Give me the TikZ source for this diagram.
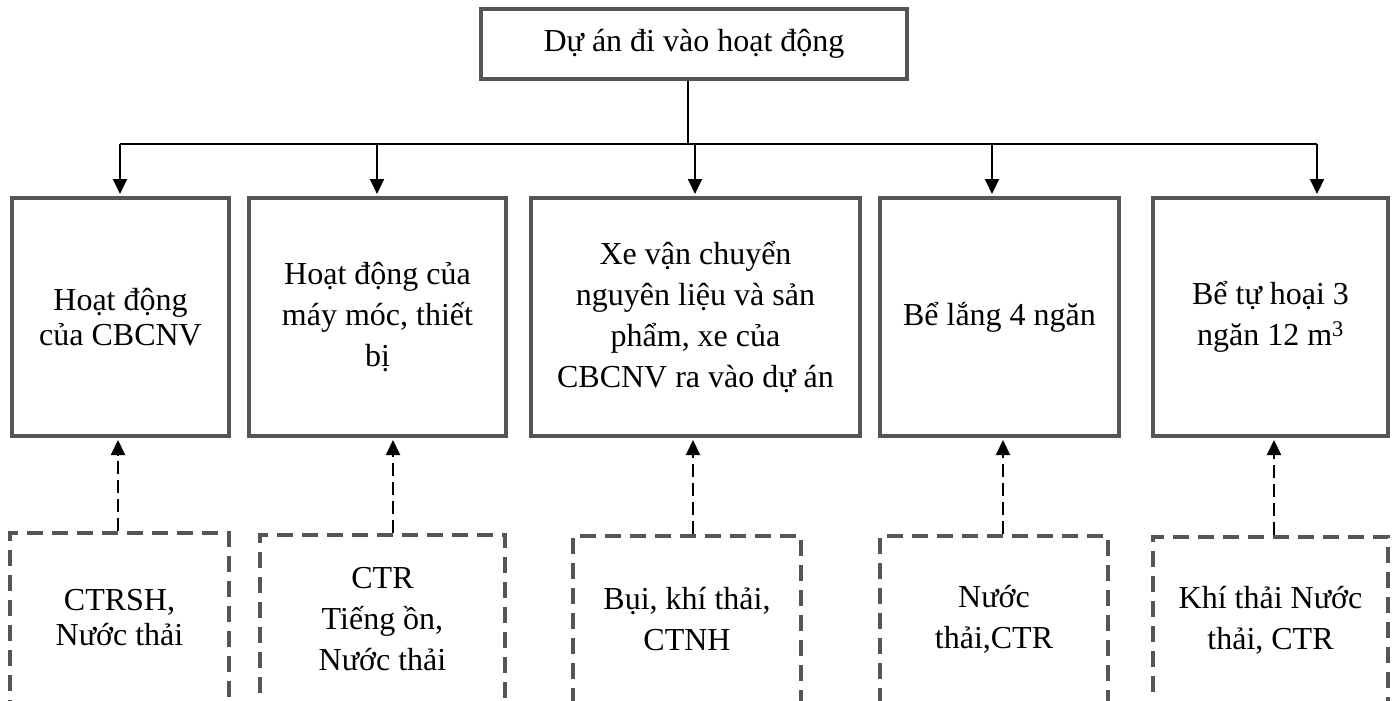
\documentclass[tikz,border=0pt]{standalone}
\usepackage{fontspec}
\setmainfont{Liberation Serif}
\usetikzlibrary{arrows.meta}
\definecolor{boxgray}{HTML}{555555}
\tikzset{
  txt/.style={align=center, inner sep=0pt, font=\fontsize{32}{41}\selectfont},
  tight/.style={font=\fontsize{32}{35}\selectfont},
  solidbox/.style={txt, draw=boxgray, line width=4pt},
  dashbox/.style={txt, draw=boxgray, line width=4pt, dash pattern=on 16pt off 9pt},
  link/.style={draw=black, line width=2pt},
  arr/.style={link, -{Triangle[width=14pt,length=15pt]}, shorten >=2pt},
  darr/.style={arr, dash pattern=on 13pt off 6pt}
}
\begin{document}
\begin{tikzpicture}[x=1pt,y=-1pt]
\useasboundingbox (0,0) rectangle (1392,701);
\clip (0,0) rectangle (1392,701);
\fill[white] (0,0) rectangle (1392,701);

% top box
\node[solidbox, minimum width=426pt, minimum height=70pt] (top) at (694,44) {Dự án đi vào hoạt động};

% activity boxes
\node[solidbox, tight, minimum width=217pt, minimum height=238pt] (b1) at (120.5,317) {Hoạt động\\của CBCNV};
\node[solidbox, minimum width=257pt, minimum height=238pt] (b2) at (377.5,317) {Hoạt động của\\máy móc, thiết\\bị};
\node[solidbox, minimum width=329pt, minimum height=238pt] (b3) at (695.5,317) {Xe vận chuyển\\nguyên liệu và sản\\phẩm, xe của\\CBCNV ra vào dự án};
\node[solidbox, minimum width=239pt, minimum height=238pt] (b4) at (999.5,317) {Bể lắng 4 ngăn};
\node[solidbox, minimum width=235pt, minimum height=238pt] (b5) at (1270.5,317) {Bể tự hoại 3\\ngăn 12 m\textsuperscript{3}};

% waste boxes
\node[dashbox, tight, minimum width=219pt, minimum height=170pt] (d1) at (119.5,618) {CTRSH,\\Nước thải};
\node[dashbox, minimum width=245pt, minimum height=168pt] (d2) at (382.5,619) {CTR\\Tiếng ồn,\\Nước thải};
\node[dashbox, minimum width=228pt, minimum height=167pt] (d3) at (687,619.5) {Bụi, khí thải,\\CTNH};
\node[dashbox, minimum width=228pt, minimum height=167pt] (d4) at (994,619.5) {Nước\\thải,CTR};
\node[dashbox, minimum width=235pt, minimum height=166pt] (d5) at (1270.5,620) {Khí thải Nước\\thải, CTR};

% distribution lines
\coordinate (j) at (688,144);
\coordinate (h1) at (120,144);
\coordinate (h2) at (377,144);
\coordinate (h3) at (695,144);
\coordinate (h4) at (992,144);
\coordinate (h5) at (1317,144);
\draw[link] (top.south -| j) -- (j);
\draw[link] (h1) -- (h5);
\draw[arr] (h1) -- (h1 |- b1.north);
\draw[arr] (h2) -- (h2 |- b2.north);
\draw[arr] (h3) -- (h3 |- b3.north);
\draw[arr] (h4) -- (h4 |- b4.north);
\draw[arr] (h5) -- (h5 |- b5.north);

% impact arrows
\coordinate (u1) at (118,480);
\coordinate (u2) at (393,480);
\coordinate (u3) at (693,480);
\coordinate (u4) at (1003,480);
\coordinate (u5) at (1274,480);
\draw[darr] (u1 |- d1.north) -- (u1 |- b1.south);
\draw[darr] (u2 |- d2.north) -- (u2 |- b2.south);
\draw[darr] (u3 |- d3.north) -- (u3 |- b3.south);
\draw[darr] (u4 |- d4.north) -- (u4 |- b4.south);
\draw[darr] (u5 |- d5.north) -- (u5 |- b5.south);
\end{tikzpicture}
\end{document}
